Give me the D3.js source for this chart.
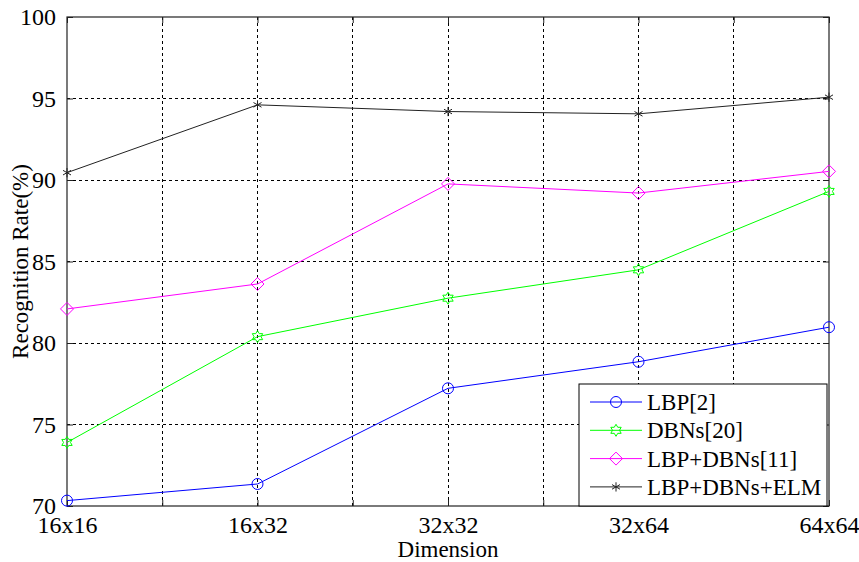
<!DOCTYPE html>
<html>
<head>
<meta charset="utf-8">
<script src="https://cdn.jsdelivr.net/npm/d3@7"></script>
<style>
  body { margin: 0; background: #fff; }
  svg text { font-family: "Liberation Serif", "Times New Roman", serif; fill: #000; }
</style>
</head>
<body>
<div id="chart"></div>
<script>
// data
const categories = ["16x16", "16x32", "32x32", "32x64", "64x64"];
const lbp = [70.33, 71.35, 77.22, 78.85, 80.97];
const dbns = [73.9, 80.39, 82.75, 84.49, 89.3];
const lbpDbns = [82.09, 83.62, 89.76, 89.2, 90.53];
const lbpDbnsElm = [90.45, 94.61, 94.2, 94.06, 95.08];
const yTicks = [70, 75, 80, 85, 90, 95, 100];
const seriesNames = ["LBP[2]", "DBNs[20]", "LBP+DBNs[11]", "LBP+DBNs+ELM"];

const W = 859, H = 562;
const margin = {top: 17, right: 30, bottom: 56, left: 67};
const width = W - margin.left - margin.right;
const height = H - margin.top - margin.bottom;

const svg = d3.select("#chart").append("svg")
  .attr("width", W).attr("height", H);
const g = svg.append("g").attr("transform", "translate(" + margin.left + "," + margin.top + ")");

const x = d3.scaleLinear().domain([0, categories.length - 1]).range([0, width]);
const y = d3.scaleLinear().domain([70, 100]).range([height, 0]);
const xTicks = d3.range(0, categories.length - 0.99, 0.5);

// grid
g.append("g").selectAll("line").data(xTicks.slice(1, -1)).join("line")
  .attr("x1", d => x(d)).attr("x2", d => x(d)).attr("y1", 0).attr("y2", height)
  .attr("stroke", "#000").attr("stroke-width", 1).attr("stroke-dasharray", "3,3")
  .attr("shape-rendering", "crispEdges");
g.append("g").selectAll("line").data(yTicks.slice(1, -1)).join("line")
  .attr("x1", 0).attr("x2", width).attr("y1", d => y(d)).attr("y2", d => y(d))
  .attr("stroke", "#000").attr("stroke-width", 1).attr("stroke-dasharray", "3,3")
  .attr("shape-rendering", "crispEdges");

// axes
const xAxis = d3.axisBottom(x).tickValues(xTicks).tickSizeInner(-6).tickSizeOuter(0)
  .tickPadding(10)
  .tickFormat(d => Number.isInteger(d) ? categories[d] : "");
const yAxis = d3.axisLeft(y).tickValues(yTicks).tickSizeInner(-6).tickSizeOuter(0)
  .tickPadding(11);

const gx = g.append("g").attr("transform", "translate(0," + height + ")").call(xAxis);
const gy = g.append("g").call(yAxis);
g.append("g").call(d3.axisTop(x).tickValues(xTicks).tickSizeInner(-6).tickSizeOuter(0).tickFormat(""));
g.append("g").attr("transform", "translate(" + width + ",0)")
  .call(d3.axisRight(y).tickValues(yTicks).tickSizeInner(-6).tickSizeOuter(0).tickFormat(""));
g.selectAll(".tick line").attr("stroke", "#222");
gx.selectAll("text").style("font-size", "24px");
gy.selectAll("text").style("font-size", "24px");
g.selectAll(".domain").remove();
g.append("rect").attr("x", 0).attr("y", 0).attr("width", width).attr("height", height)
  .attr("fill", "none").attr("stroke", "#222").attr("stroke-width", 1.2);

// axis titles
svg.append("text").attr("x", margin.left + width / 2).attr("y", 557)
  .attr("text-anchor", "middle").style("font-size", "23px").text("Dimension");
svg.append("text").attr("transform", "translate(28," + (margin.top + height / 2) + ") rotate(-90)")
  .attr("text-anchor", "middle").style("font-size", "23px").text("Recognition Rate(%)");

// markers
function hexagram(r) {
  const pts = [];
  for (let i = 0; i < 12; i++) {
    const a = Math.PI / 6 * i - Math.PI / 2;
    const rr = i % 2 === 0 ? r : r * 0.58;
    pts.push([rr * Math.cos(a), rr * Math.sin(a)]);
  }
  return "M" + pts.map(p => p.join(",")).join("L") + "Z";
}
const diamond = "M0,-6.5L6.5,0L0,6.5L-6.5,0Z";
const markers = [
  d3.symbol(d3.symbolCircle, 95)(),
  hexagram(6),
  diamond,
  d3.symbol(d3.symbolAsterisk, 60)()
];
const colors = ["#0000ff", "#00ff00", "#ff00ff", "#222"];
const series = [lbp, dbns, lbpDbns, lbpDbnsElm];

const line = d3.line().x((d, i) => x(i)).y(d => y(d));
series.forEach((s, k) => {
  g.append("path").attr("d", line(s)).attr("fill", "none")
    .attr("stroke", colors[k]).attr("stroke-width", 1);
  g.append("g").selectAll("path").data(s).join("path")
    .attr("transform", (d, i) => "translate(" + x(i) + "," + y(d) + ")")
    .attr("d", markers[k]).attr("fill", "none").attr("stroke", colors[k]).attr("stroke-width", 1);
});

// legend
const lg = svg.append("g").attr("transform", "translate(579,384)");
lg.append("rect").attr("width", 248).attr("height", 122)
  .attr("fill", "#fff").attr("stroke", "#000").attr("stroke-width", 1);
seriesNames.forEach((name, k) => {
  const ly = 18 + k * 28.3;
  lg.append("line").attr("x1", 11).attr("x2", 63).attr("y1", ly).attr("y2", ly)
    .attr("stroke", colors[k]).attr("stroke-width", 1);
  lg.append("path").attr("transform", "translate(37," + ly + ")").attr("d", markers[k])
    .attr("fill", "none").attr("stroke", colors[k]).attr("stroke-width", 1);
  lg.append("text").attr("x", 68).attr("y", ly).attr("dy", "0.35em")
    .style("font-size", "23px").text(name);
});
</script>
</body>
</html>
